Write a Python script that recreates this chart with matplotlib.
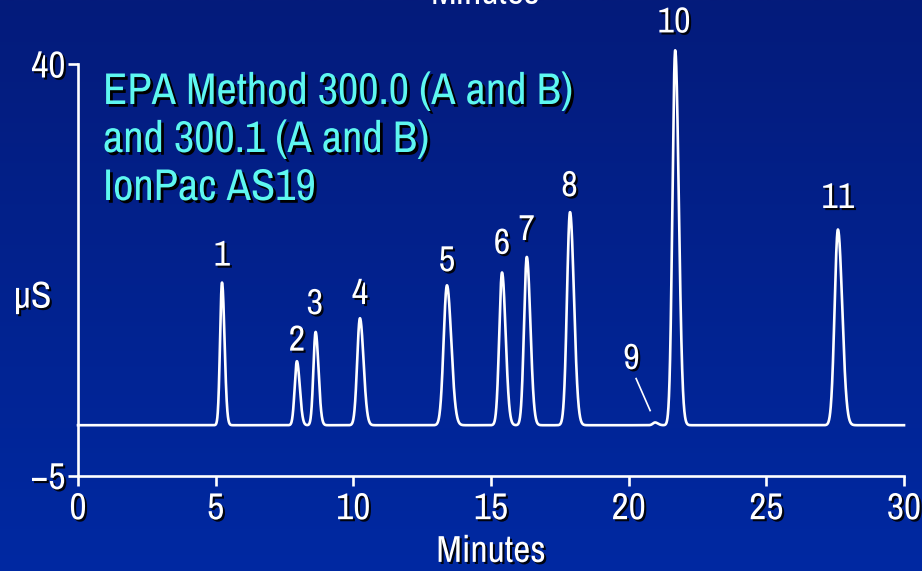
#!/usr/bin/env python3

import matplotlib
matplotlib.use("Agg")
import matplotlib.pyplot as plt
import matplotlib.patheffects as pe
from matplotlib import font_manager
import numpy as np


# peak table: retention time (min), height (uS above baseline), width (min)
peak_ids = ["1", "2", "3", "4", "5", "6", "7", "8", "9", "10", "11"]
peak_rt = [5.23, 7.95, 8.63, 10.24, 13.40, 15.40, 16.30, 17.87, 20.96, 21.69, 27.60]
peak_height = [15.6, 7.0, 10.2, 11.7, 15.3, 16.7, 18.4, 23.3, 0.3, 41.0, 21.4]
peak_width = [0.07, 0.08, 0.08, 0.10, 0.12, 0.10, 0.10, 0.11, 0.08, 0.10, 0.12]
baseline = 0.5
# label anchor positions (min, uS)
label_x = [5.23, 7.95, 8.60, 10.24, 13.40, 15.40, 16.30, 17.85, 20.10, 21.65, 27.60]
label_y = [19.1, 9.8, 13.8, 14.9, 18.5, 20.4, 21.9, 26.7, 7.8, 44.6, 25.4]
title_lines = ["EPA Method 300.0 (A and B)", "and 300.1 (A and B)", "IonPac AS19"]


def pick_font():
    # look for a narrow/condensed sans face, the slide uses one
    for f in font_manager.fontManager.ttflist:
        n = f.name.lower()
        if "narrow" in n or ("condensed" in n and "bold" not in f.style):
            return f.name, "normal"
    for f in font_manager.fontManager.ttflist:
        if f.stretch in ("condensed", "semi-condensed") and f.weight in (400, "normal"):
            return f.name, f.stretch
    return "Liberation Sans", "normal"


fam, stretch = pick_font()
FONT = [fam, "DejaVu Sans"]
shadow = [pe.withSimplePatchShadow(offset=(1.5, -1.5), shadow_rgbFace="black", alpha=0.9)]

# build trace from the peak table (gaussian with a little tailing)
t = np.linspace(0, 30, 6000)
sig = np.full_like(t, baseline)
for rt, h, w in zip(peak_rt, peak_height, peak_width):
    wl = np.where(t < rt, w, w * 1.3)
    sig += h * np.exp(-0.5 * ((t - rt) / wl) ** 2)

fig = plt.figure(figsize=(9.22, 5.71), dpi=100)

# gradient background
bg = fig.add_axes([0, 0, 1, 1], zorder=-10)
grad = np.linspace(0, 1, 256).reshape(-1, 1)
top = np.array([0x04, 0x1b, 0x7b]) / 255
bot = np.array([0x00, 0x29, 0xa2]) / 255
img = top + (bot - top) * grad[:, :, None]
bg.imshow(img, aspect="auto", extent=[0, 1, 0, 1])
bg.axis("off")

ax = fig.add_axes([78 / 922, 1 - 475.5 / 571, (904 - 78) / 922, (475.5 - 64) / 571])
ax.patch.set_alpha(0)
ax.plot(t, sig, color="white", lw=1.9, clip_on=False)
ax.set_xlim(0, 30)
ax.set_ylim(-5, 40)

for s in ["top", "right"]:
    ax.spines[s].set_visible(False)
for s in ["left", "bottom"]:
    ax.spines[s].set_color("white")
    ax.spines[s].set_linewidth(1.9)

ax.set_xticks([0, 5, 10, 15, 20, 25, 30])
ax.set_yticks([-5, 40])
ax.set_yticklabels(["\u22125", "40"])
ax.tick_params(axis="both", colors="white", width=1.9, length=7, labelsize=27)
ax.tick_params(axis="x", pad=5)
ax.tick_params(axis="y", pad=2)
for lab in ax.get_xticklabels() + ax.get_yticklabels():
    lab.set_family(FONT)
    lab.set_stretch(stretch)
    lab.set_path_effects(shadow)

ax.set_xlabel("Minutes", color="white", fontsize=27, family=FONT, stretch=stretch,
              labelpad=7, path_effects=shadow)
ax.set_ylabel("\u03bcS", color="white", fontsize=27, family=FONT, stretch=stretch,
              rotation=0, va="center", ha="center", path_effects=shadow)
ax.yaxis.set_label_coords(-0.055, 0.431)

for pid, lx, ly in zip(peak_ids, label_x, label_y):
    ax.text(lx, ly, pid, color="white", fontsize=26, family=FONT, stretch=stretch,
            ha="center", va="center", clip_on=False, path_effects=shadow)

# leader line for peak 9
ax.plot([20.27, 20.78], [5.6, 2.1], color="white", lw=1.2)

for i, line in enumerate(title_lines):
    fig.text(103 / 922, 1 - (92 + 48 * i) / 571, line, color="#5ef7f0",
             fontsize=32, family=FONT, stretch=stretch, va="center", ha="left",
             path_effects=[pe.withSimplePatchShadow(offset=(2, -2),
                                                    shadow_rgbFace="black",
                                                    alpha=1.0)])

# cut-off caption from the slide above
fig.text(485 / 922, 1 - 4 / 571, "Minutes", color="white", fontsize=27,
         family=FONT, stretch=stretch, ha="center", va="baseline")

fig.savefig("out.png", dpi=100)
